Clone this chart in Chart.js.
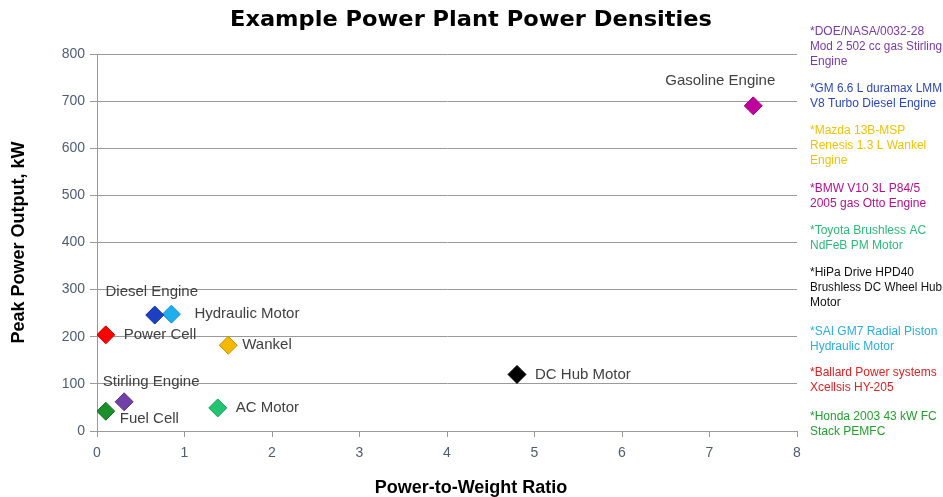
<!DOCTYPE html>
<html>
<head>
<meta charset="utf-8">
<script src="https://cdn.jsdelivr.net/npm/chart.js@4.4.1/dist/chart.umd.min.js"></script>
<style>
  html, body { margin: 0; padding: 0; background: #ffffff; }
  #wrap { width: 943px; height: 497px; position: relative; }
</style>
</head>
<body>
<div id="wrap"><canvas id="c" width="943" height="497"></canvas></div>
<script>
// Power plant types and their measured values
const plants = ['Gasoline Engine', 'DC Hub Motor', 'Diesel Engine', 'Hydraulic Motor', 'Power Cell', 'Wankel', 'Stirling Engine', 'Fuel Cell', 'AC Motor'];
const powerToWeight = [7.5, 4.8, 0.66, 0.85, 0.1, 1.5, 0.31, 0.1, 1.38];
const peakPowerKW = [690, 120, 246, 248, 204, 182, 62, 42, 49];
const markerColors = ['#c0009c', '#000000', '#1c3fc4', '#1eaef0', '#ff0000', '#f5b800', '#7040a8', '#1a8f2a', '#22c472'];
const markerBorders = ['#a00082', '#000000', '#13309a', '#1590c8', '#d40000', '#c89400', '#58308a', '#137020', '#18a05c'];

// Label placement relative to each marker: [dx, dy, align]
const labelPlacement = [
  [-33, -25, 'center'], [18, 0, 'left'], [-3, -23, 'center'], [23, 0, 'left'], [18, 0, 'left'],
  [14, 0, 'left'], [27, -20, 'center'], [14, 8, 'left'], [18, 0, 'left']
];

// Source notes listed at the right
const sourceNotes = [
  ['*DOE/NASA/0032-28', 'Mod 2 502 cc gas Stirling', 'Engine'],
  ['*GM 6.6 L duramax LMM', 'V8 Turbo Diesel Engine'],
  ['*Mazda 13B-MSP', 'Renesis 1.3 L Wankel', 'Engine'],
  ['*BMW V10 3L P84/5', '2005 gas Otto Engine'],
  ['*Toyota Brushless AC', 'NdFeB PM Motor'],
  ['*HiPa Drive HPD40', 'Brushless DC Wheel Hub', 'Motor'],
  ['*SAI GM7 Radial Piston', 'Hydraulic Motor'],
  ['*Ballard Power systems', 'Xcellsis HY-205'],
  ['*Honda 2003 43 kW FC', 'Stack PEMFC']
];
const noteColors = ['#7a3aa8', '#2a48b8', '#f2c200', '#b4108e', '#2cba78', '#111111', '#2aaee0', '#e02020', '#24a030'];
const noteTops = [32, 89, 131, 189, 231, 273, 332, 373, 417];

const xTicks = [0, 1, 2, 3, 4, 5, 6, 7, 8];
const yTicks = [0, 100, 200, 300, 400, 500, 600, 700, 800];

const FONT = '"Liberation Sans", Arial, sans-serif';

const datasets = plants.map((name, i) => ({
  label: name,
  data: [{ x: powerToWeight[i], y: peakPowerKW[i] }],
  backgroundColor: markerColors[i],
  borderColor: markerBorders[i],
  borderWidth: 1,
  pointStyle: 'rectRot',
  pointRadius: 9,
  pointHoverRadius: 9
}));

const annotate = {
  id: 'annotate',
  afterDatasetsDraw(chart) {
    const ctx = chart.ctx;
    ctx.save();
    ctx.font = '15px ' + FONT;
    ctx.fillStyle = '#404040';
    ctx.textBaseline = 'middle';
    chart.data.datasets.forEach((ds, i) => {
      const pt = chart.getDatasetMeta(i).data[0];
      const [dx, dy, align] = labelPlacement[i];
      ctx.textAlign = align;
      ctx.fillText(ds.label, pt.x + dx, pt.y + dy);
    });
    ctx.restore();
  },
  afterDraw(chart) {
    const ctx = chart.ctx;
    ctx.save();
    // chart title, fitted to its set width
    const title = 'Example Power Plant Power Densities';
    ctx.font = 'bold 21px "DejaVu Sans", Verdana, sans-serif';
    ctx.fillStyle = '#000000';
    ctx.textAlign = 'center';
    ctx.textBaseline = 'middle';
    const sx = 482 / ctx.measureText(title).width;
    ctx.save();
    ctx.translate(471, 21);
    ctx.scale(sx, 1);
    ctx.fillText(title, 0, 0);
    ctx.restore();
    // notes column
    ctx.font = '12px ' + FONT;
    ctx.textAlign = 'left';
    sourceNotes.forEach((lines, i) => {
      ctx.fillStyle = noteColors[i];
      lines.forEach((t, j) => ctx.fillText(t, 810, noteTops[i] + j * 15, 132));
    });
    // horizontal axis title
    ctx.font = 'bold 18px ' + FONT;
    ctx.fillStyle = '#000000';
    ctx.textAlign = 'center';
    ctx.fillText('Power-to-Weight Ratio', 471, 488);
    ctx.restore();
  }
};

new Chart(document.getElementById('c'), {
  type: 'scatter',
  data: { datasets },
  plugins: [annotate],
  options: {
    responsive: false,
    animation: false,
    events: [],
    layout: { padding: { left: 0, right: 146, top: 54, bottom: 0 } },
    plugins: {
      legend: { display: false },
      tooltip: { enabled: false },
      title: { display: false }
    },
    scales: {
      x: {
        type: 'linear',
        min: 0, max: 8,
        afterBuildTicks: s => { s.ticks = xTicks.map(v => ({ value: v })); },
        afterFit: s => { s.height = 66; s.paddingLeft = 0; s.paddingRight = 0; },
        ticks: { color: '#4f5d73', padding: 8, font: { family: FONT, size: 14 } },
        grid: { drawOnChartArea: false, drawTicks: true, tickLength: 6, color: '#9a9a9a' },
        border: { display: true, color: '#9a9a9a' }
      },
      y: {
        type: 'linear',
        min: 0, max: 800,
        afterBuildTicks: s => { s.ticks = yTicks.map(v => ({ value: v })); },
        afterFit: s => { s.width = 97; s.paddingTop = 0; s.paddingBottom = 0; },
        ticks: { color: '#4f5d73', padding: 5, font: { family: FONT, size: 14 } },
        grid: { color: '#9a9a9a', tickLength: 7 },
        border: { display: true, color: '#9a9a9a' },
        title: {
          display: true,
          text: 'Peak Power Output, kW',
          color: '#000000',
          font: { family: FONT, size: 18, weight: 'bold' },
          padding: { top: 8, bottom: 0 }
        }
      }
    }
  }
});
</script>
</body>
</html>
